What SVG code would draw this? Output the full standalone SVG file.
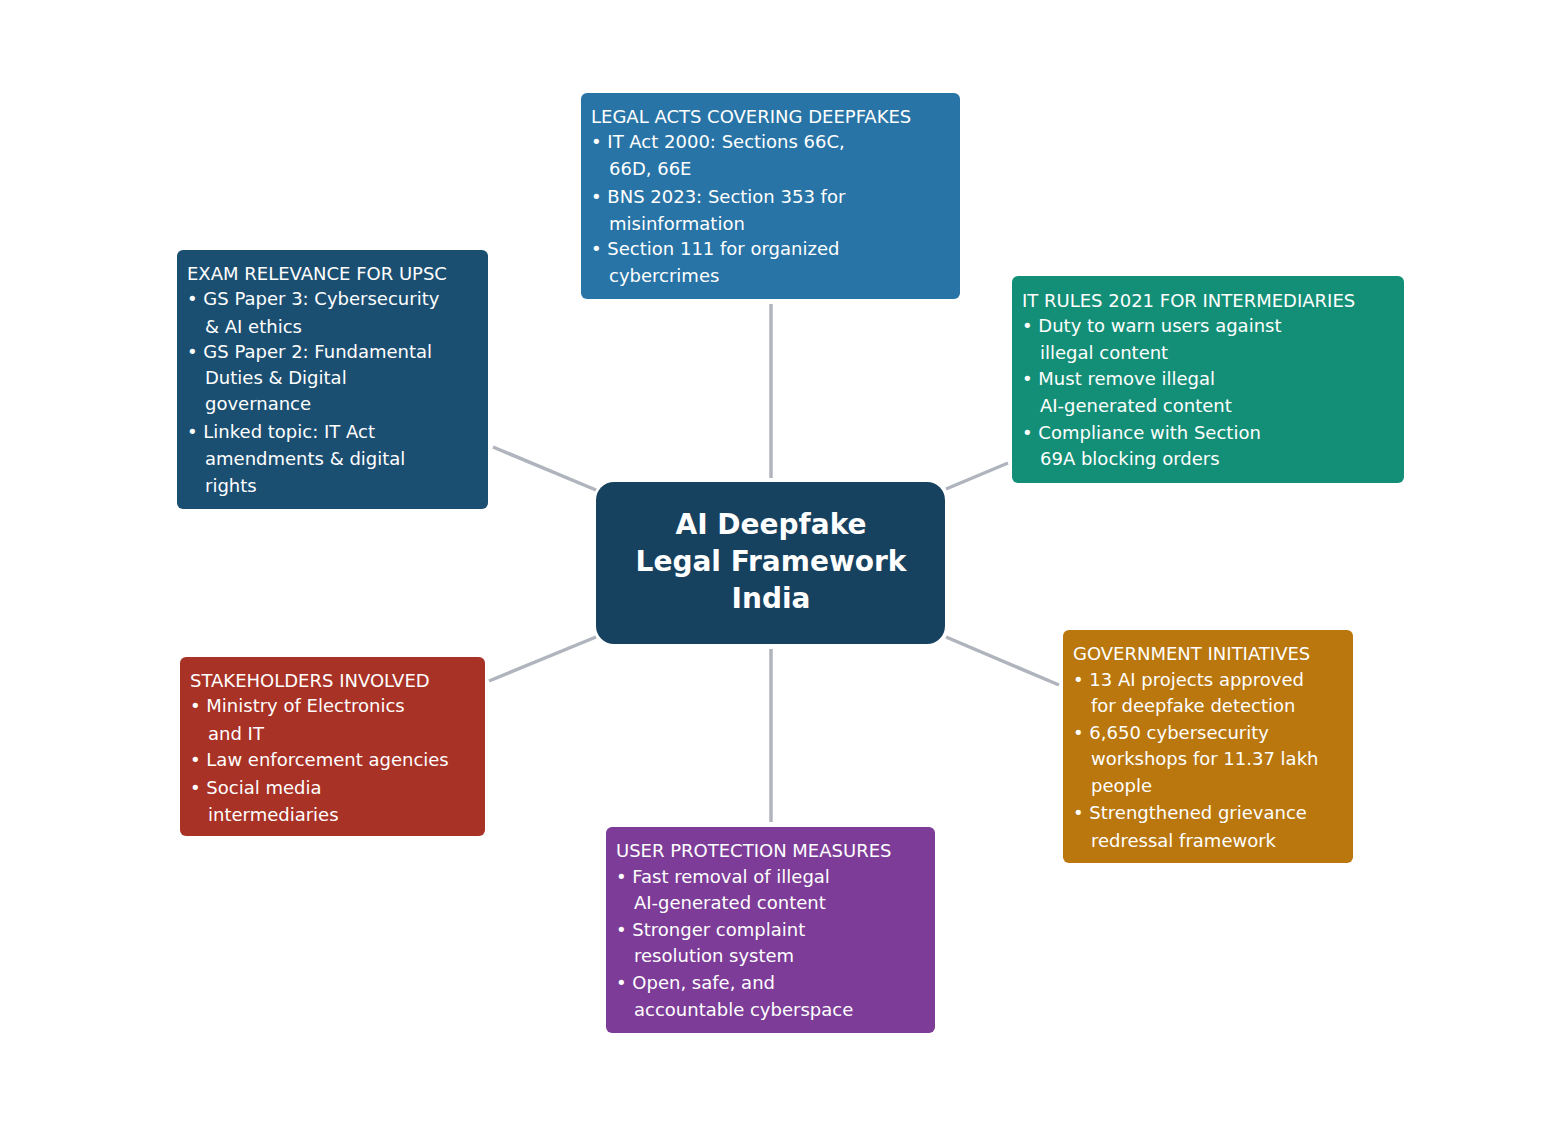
<svg xmlns="http://www.w3.org/2000/svg" width="1541" height="1127" viewBox="0 0 1541 1127">
<style>
text{font-family:"DejaVu Sans",sans-serif;fill:#fff}
.t{font-size:18px}
.h{font-size:28px;font-weight:bold}
.c{stroke:#b0b5bd;stroke-width:3.5;fill:none}
</style>
<rect width="1541" height="1127" fill="#fff"/>
<g id="connectors">
<line class="c" x1="771" y1="304" x2="771" y2="478"/>
<line class="c" x1="493" y1="447" x2="596" y2="490"/>
<line class="c" x1="946" y1="489" x2="1008" y2="463"/>
<line class="c" x1="489" y1="681" x2="596" y2="637"/>
<line class="c" x1="946" y1="637" x2="1059" y2="685"/>
<line class="c" x1="771" y1="649" x2="771" y2="822"/>
</g>
<g id="center">
<rect x="596" y="482" width="349" height="162" rx="18" fill="#17425f"/>
<text class="h" text-anchor="middle"><tspan x="771" y="534">AI Deepfake</tspan><tspan x="771" y="571">Legal Framework</tspan><tspan x="771" y="608">India</tspan></text>
</g>
<g id="legal">
<rect x="581" y="93" width="379" height="206" rx="6" fill="#2874a6"/>
<text class="t"><tspan x="591" y="123">LEGAL ACTS COVERING DEEPFAKES</tspan><tspan x="591" y="148">• IT Act 2000: Sections 66C,</tspan><tspan x="609" y="175">66D, 66E</tspan><tspan x="591" y="203">• BNS 2023: Section 353 for</tspan><tspan x="609" y="230">misinformation</tspan><tspan x="591" y="255">• Section 111 for organized</tspan><tspan x="609" y="282">cybercrimes</tspan></text>
</g>
<g id="exam">
<rect x="177" y="250" width="311" height="259" rx="6" fill="#1b4f72"/>
<text class="t"><tspan x="187" y="280">EXAM RELEVANCE FOR UPSC</tspan><tspan x="187" y="305">• GS Paper 3: Cybersecurity</tspan><tspan x="205" y="333">&amp; AI ethics</tspan><tspan x="187" y="358">• GS Paper 2: Fundamental</tspan><tspan x="205" y="384">Duties &amp; Digital</tspan><tspan x="205" y="410">governance</tspan><tspan x="187" y="438">• Linked topic: IT Act</tspan><tspan x="205" y="465">amendments &amp; digital</tspan><tspan x="205" y="492">rights</tspan></text>
</g>
<g id="itrules">
<rect x="1012" y="276" width="392" height="207" rx="6" fill="#148f77"/>
<text class="t"><tspan x="1022" y="307">IT RULES 2021 FOR INTERMEDIARIES</tspan><tspan x="1022" y="332">• Duty to warn users against</tspan><tspan x="1040" y="359">illegal content</tspan><tspan x="1022" y="385">• Must remove illegal</tspan><tspan x="1040" y="412">AI-generated content</tspan><tspan x="1022" y="439">• Compliance with Section</tspan><tspan x="1040" y="465">69A blocking orders</tspan></text>
</g>
<g id="gov">
<rect x="1063" y="630" width="290" height="233" rx="6" fill="#b9770e"/>
<text class="t"><tspan x="1073" y="660">GOVERNMENT INITIATIVES</tspan><tspan x="1073" y="686">• 13 AI projects approved</tspan><tspan x="1091" y="712">for deepfake detection</tspan><tspan x="1073" y="739">• 6,650 cybersecurity</tspan><tspan x="1091" y="765">workshops for 11.37 lakh</tspan><tspan x="1091" y="792">people</tspan><tspan x="1073" y="819">• Strengthened grievance</tspan><tspan x="1091" y="847">redressal framework</tspan></text>
</g>
<g id="stake">
<rect x="180" y="657" width="305" height="179" rx="6" fill="#a93226"/>
<text class="t"><tspan x="190" y="687">STAKEHOLDERS INVOLVED</tspan><tspan x="190" y="712">• Ministry of Electronics</tspan><tspan x="208" y="740">and IT</tspan><tspan x="190" y="766">• Law enforcement agencies</tspan><tspan x="190" y="794">• Social media</tspan><tspan x="208" y="821">intermediaries</tspan></text>
</g>
<g id="user">
<rect x="606" y="827" width="329" height="206" rx="6" fill="#7d3c98"/>
<text class="t"><tspan x="616" y="857">USER PROTECTION MEASURES</tspan><tspan x="616" y="883">• Fast removal of illegal</tspan><tspan x="634" y="909">AI-generated content</tspan><tspan x="616" y="936">• Stronger complaint</tspan><tspan x="634" y="962">resolution system</tspan><tspan x="616" y="989">• Open, safe, and</tspan><tspan x="634" y="1016">accountable cyberspace</tspan></text>
</g>
</svg>
